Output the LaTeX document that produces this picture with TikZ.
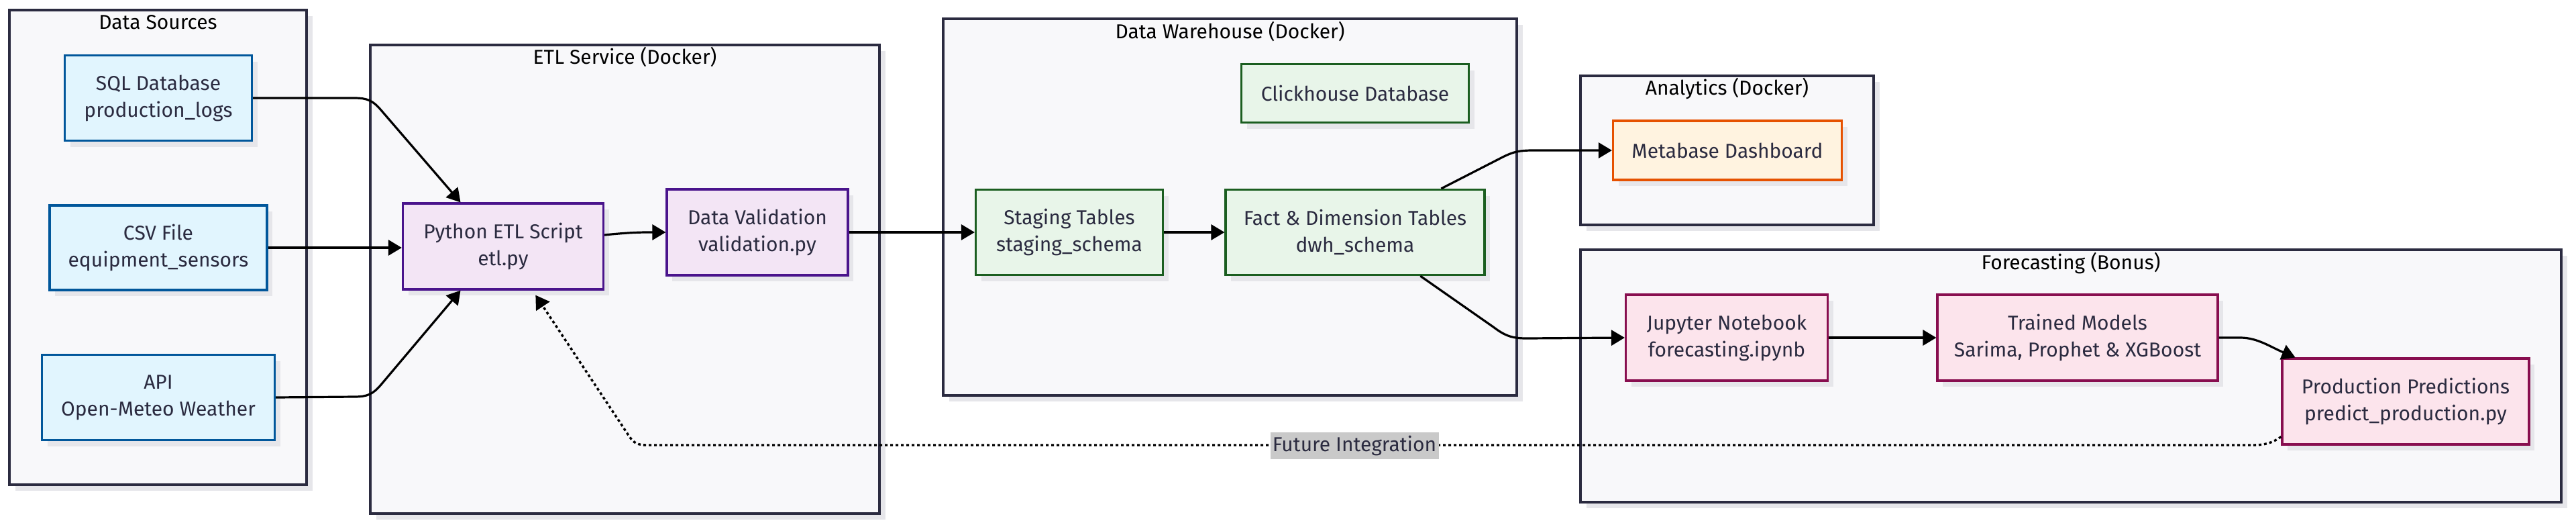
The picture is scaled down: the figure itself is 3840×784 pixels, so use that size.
\documentclass[tikz,border=0pt]{standalone}
\usepackage{fontspec}
\setmainfont{Fira Sans}
\usetikzlibrary{arrows.meta,shadows,calc}
\definecolor{clfill}{HTML}{F8F8FA}
\definecolor{cldraw}{HTML}{2B2B40}
\definecolor{txt}{HTML}{2B2B40}
\definecolor{srcfill}{HTML}{E1F5FE}
\definecolor{srcdraw}{HTML}{01579B}
\definecolor{etlfill}{HTML}{F3E5F5}
\definecolor{etldraw}{HTML}{4A148C}
\definecolor{dwfill}{HTML}{E8F5E9}
\definecolor{dwdraw}{HTML}{1B5E20}
\definecolor{anfill}{HTML}{FFF3E0}
\definecolor{andraw}{HTML}{E65100}
\definecolor{fcfill}{HTML}{FCE4EC}
\definecolor{fcdraw}{HTML}{880E4F}
\definecolor{shad}{HTML}{E6E6EA}
\begin{document}
\begin{tikzpicture}[x=0.5pt,y=-0.5pt,
  every node/.style={font=\fontsize{15}{20}\selectfont, text=txt},
  cluster/.style={draw=cldraw, fill=clfill, line width=1.8pt, inner sep=0pt,
    drop shadow={shadow xshift=4.5pt, shadow yshift=-4.5pt, fill=shad, opacity=1}},
  cltitle/.style={text=black, inner sep=0pt},
  box/.style={line width=1.6pt, inner sep=0pt, align=center,
    drop shadow={shadow xshift=4pt, shadow yshift=-4.5pt, fill=shad, opacity=1}},
  src/.style={box, draw=srcdraw, fill=srcfill},
  etlbox/.style={box, draw=etldraw, fill=etlfill},
  dwbox/.style={box, draw=dwdraw, fill=dwfill},
  anbox/.style={box, draw=andraw, fill=anfill},
  fcbox/.style={box, draw=fcdraw, fill=fcfill},
  arr/.style={line width=1.6pt, -{Triangle[length=10pt,width=11.5pt]}},
  dotarr/.style={line width=1.7pt, dash pattern=on 2pt off 2pt, -{Triangle[length=10pt,width=12pt]}},
  lbl/.style={fill=black!21, inner sep=0pt, minimum width=125.5pt, minimum height=20pt}
]
\useasboundingbox (0,0) rectangle (3840,784);
\fill[white] (0,0) rectangle (3840,784);

% clusters
\node[cluster, minimum width=221.5pt, minimum height=353.5pt] (ds) at (235.5,368.5) {};
\node[cluster, minimum width=379.5pt, minimum height=349pt] (etlc) at (931.5,416) {};
\node[cluster, minimum width=427.5pt, minimum height=280.5pt] (dw) at (1833.5,308.5) {};
\node[cluster, minimum width=218.5pt, minimum height=111pt] (an) at (2574.5,224) {};
\node[cluster, minimum width=731pt, minimum height=188pt] (fc) at (3087,560) {};

\node[cltitle] (dst) at ($(ds.north)+(0,20)$) {Data Sources};
\node[cltitle] (etlct) at ($(etlc.north)+(0,20)$) {ETL Service (Docker)};
\node[cltitle] (dwt) at ($(dw.north)+(0,21)$) {Data Warehouse (Docker)};
\node[cltitle] (ant) at ($(an.north)+(0,21)$) {Analytics (Docker)};
\node[cltitle] (fct) at ($(fc.north)+(0,22)$) {Forecasting (Bonus)};

% nodes
\node[src, minimum width=139.5pt, minimum height=63.5pt] (sql) at (236,146) {SQL Database\\production\_logs};
\node[src, minimum width=162pt, minimum height=63pt] (csv) at (236,369) {CSV File\\equipment\_sensors};
\node[src, minimum width=173.5pt, minimum height=63.5pt] (api) at (236,592) {API\\Open-Meteo Weather};
\node[etlbox, minimum width=149.5pt, minimum height=64pt] (etl) at (750,367) {Python ETL Script\\etl.py};
\node[etlbox, minimum width=135pt, minimum height=64pt] (val) at (1129,346) {Data Validation\\validation.py};
\node[dwbox, minimum width=169.5pt, minimum height=43.5pt] (click) at (2020,139) {Clickhouse Database};
\node[dwbox, minimum width=139.5pt, minimum height=63.5pt] (stg) at (1594,346) {Staging Tables\\staging\_schema};
\node[dwbox, minimum width=193pt, minimum height=63.5pt] (fact) at (2020,346) {Fact \& Dimension Tables\\dwh\_schema};
\node[anbox, minimum width=170.5pt, minimum height=44pt] (meta) at (2575,224) {Metabase Dashboard};
\node[fcbox, minimum width=150.5pt, minimum height=64pt] (jup) at (2574,503) {Jupyter Notebook\\forecasting.ipynb};
\node[fcbox, minimum width=209pt, minimum height=64pt] (trained) at (3097,503) {Trained Models\\Sarima, Prophet \& XGBoost};
\node[fcbox, minimum width=184pt, minimum height=64pt] (pred) at (3586,598) {Production Predictions\\predict\_production.py};

% anchor coordinates
\coordinate (etlT) at ($(etl.north west)!0.29!(etl.north east)$);
\coordinate (etlB) at ($(etl.south west)!0.29!(etl.south east)$);
\coordinate (etlF) at ($(etl.south west)!0.66!(etl.south east)+(0,7)$);
\coordinate (etlR) at ($(etl.east)+(0,-17)$);
\coordinate (fA) at ($(fact.north west)!0.83!(fact.north east)$);
\coordinate (fB) at ($(fact.south west)!0.75!(fact.south east)$);
\coordinate (pT) at ($(pred.north west)!0.057!(pred.north east)$);
\coordinate (pL) at ($(pred.south west)+(0,-13)$);

% connectors
\draw[arr] (sql.east) -- (528,146) .. controls (548,146) and (556,150) .. (568,164) -- (etlT);
\draw[arr] (csv.east) -- (csv.east -| etl.west);
\draw[arr] (api.east) -- (528,591) .. controls (548,591) and (556,587) .. (568,573) -- (etlB);
\draw[arr] (etlR) .. controls (930,347) and (950,346) .. (965,346) -- (val.west);
\draw[arr] (val.east) -- (stg.west);
\draw[arr] (stg.east) -- (fact.west);
\draw[arr] (fA) -- (2240,234) .. controls (2256,226) and (2265,224) .. (2285,224) -- (meta.west);
\draw[arr] (fB) -- (2226,487) .. controls (2242,499) and (2252,504) .. (2275,504) -- (jup.west);
\draw[arr] (jup.east) -- (trained.west);
\draw[arr] (trained.east) -- (3340,503) .. controls (3365,503) and (3385,517) .. (pT);
\draw[dotarr] (pL) .. controls (3388,659) and (3378,663) .. (3358,663) -- (965,663) .. controls (950,663) and (945,660) .. (938,650) -- (etlF);
\node[lbl] (fi) at (2019,664) {Future Integration};
\end{tikzpicture}
\end{document}
